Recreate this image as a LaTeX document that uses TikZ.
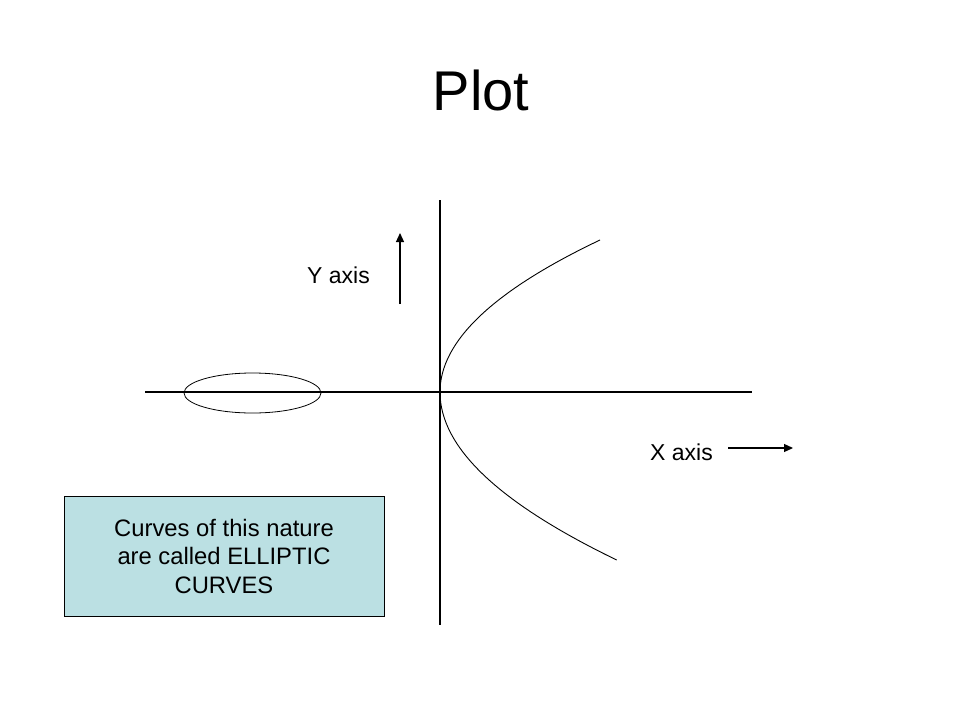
\documentclass[tikz,border=0pt]{standalone}
\usepackage{fontspec}
\setmainfont{Liberation Sans}
\usetikzlibrary{arrows.meta}
\definecolor{boxcyan}{RGB}{187,224,227}

\begin{document}
\begin{tikzpicture}[x=1pt,y=-1pt,
    axisline/.style={black, line width=1.3pt},
    arrowline/.style={black, line width=1.2pt, -{Triangle[length=9pt,width=8pt]}},
    label/.style={anchor=base, font=\fontsize{23}{28}\selectfont},
    notebox/.style={draw=black, line width=0.8pt, fill=boxcyan, minimum width=320pt, minimum height=120pt, align=center, font=\fontsize{23.8}{28.5}\selectfont}]

        \useasboundingbox (0,0) rectangle (960,720);

        %% axes
        \draw[axisline] (440,200) -- (440,625); % vertical axis
        \draw[axisline] (145,392) -- (752,392); % horizontal axis
        \draw[line width=0.8pt] (252.5,393) ellipse (68.5 and 20); % ellipse on the axis

        %% curve
        \coordinate (vertex) at (440,392);
        \draw[line width=0.9pt] (600,240) .. controls (493.3,290.7) and (440,341.3) .. (vertex)
            .. controls (440,447.3) and (498.3,502.7) .. (616.7,560); % sideways branch

        % arrows
        \coordinate (ytail) at (400,304);
        \coordinate (yhead) at (400,233);
        \coordinate (xtail) at (728,448);
        \coordinate (xhead) at (793,448);
        \draw[arrowline] (ytail) -- (yhead);
        \draw[arrowline] (xtail) -- (xhead);

        % labels
        \node[anchor=base, font=\fontsize{56}{60}\selectfont] (title) at (481,110) {Plot};
        \node[label] (ylabel) at (338.5,283) {Y axis};
        \node[label] (xlabel) at (681.5,460) {X axis};
        \node[notebox] (note) at (224,556) {Curves of this nature\\ are called ELLIPTIC\\ CURVES};
    \end{tikzpicture}
\end{document}
